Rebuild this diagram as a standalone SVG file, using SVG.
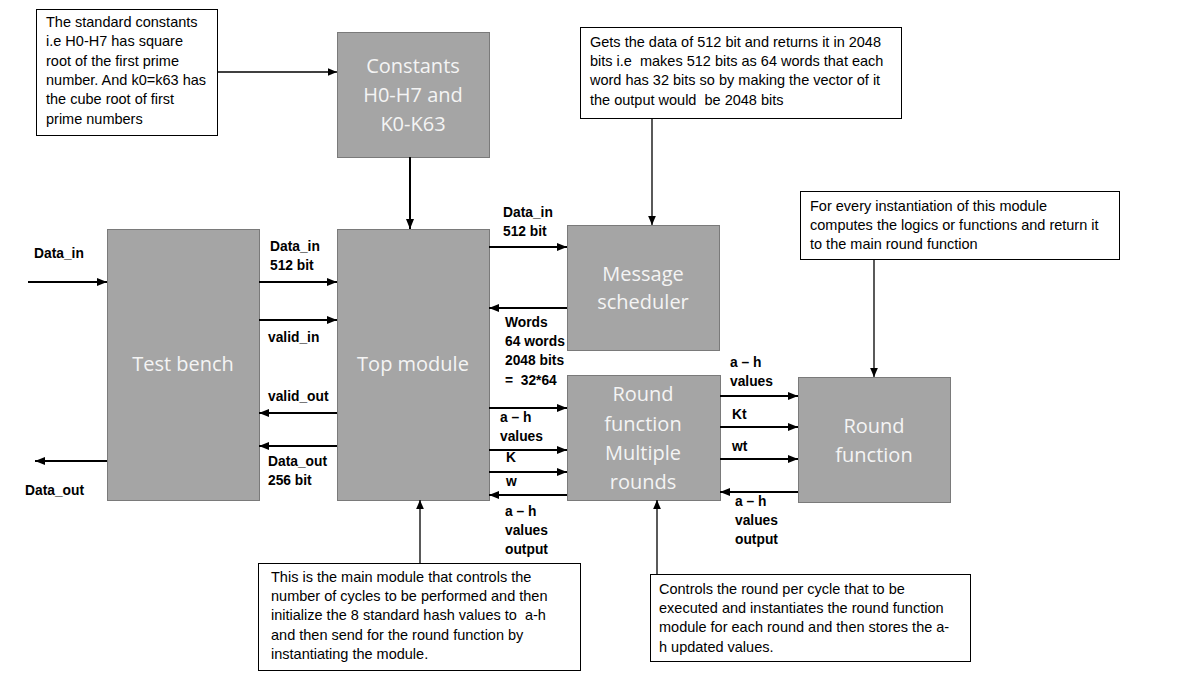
<svg xmlns="http://www.w3.org/2000/svg" width="1178" height="683" viewBox="0 0 1178 683">
<style>
.blk{fill:#a5a5a5;stroke:#7a7a7a;stroke-width:1}
.bt{font-family:"Open Sans","Liberation Sans",sans-serif;font-size:20px;fill:#f4f4f4;text-anchor:middle}
.note{fill:#fff;stroke:#000;stroke-width:1}
.nt{font-family:"Liberation Sans",Arial,sans-serif;font-size:14.5px;fill:#000;white-space:pre}
.lb{font-family:"Liberation Sans",Arial,sans-serif;font-size:13.8px;font-weight:bold;fill:#000;white-space:pre}
.w{stroke:#000;stroke-width:2;fill:none;marker-end:url(#ah)}
.t{stroke:#000;stroke-width:1.3;fill:none;marker-end:url(#ah2)}
</style>
<defs>
<marker id="ah" markerWidth="5" markerHeight="4" refX="5" refY="2" orient="auto" markerUnits="strokeWidth"><path d="M0,0 L5,2 L0,4 Z" fill="#000"/></marker>
<marker id="ah2" markerWidth="7" markerHeight="6" refX="7" refY="3" orient="auto" markerUnits="strokeWidth"><path d="M0,0 L7,3 L0,6 Z" fill="#000"/></marker>
</defs>
<rect width="1178" height="683" fill="#fff"/>

<g id="note-constants">
<rect class="note" x="36.5" y="9.5" width="181" height="126"/>
<text class="nt" x="46" y="27">The standard constants</text>
<text class="nt" x="46" y="46">i.e H0-H7 has square</text>
<text class="nt" x="46" y="66">root of the first prime</text>
<text class="nt" x="46" y="85">number. And k0=k63 has</text>
<text class="nt" x="46" y="104">the cube root of first</text>
<text class="nt" x="46" y="124">prime numbers</text>
</g>
<g id="constants">
<rect class="blk" x="337.5" y="32.5" width="152" height="125"/>
<text class="bt" x="413" y="73">Constants</text>
<text class="bt" x="413" y="102">H0-H7 and</text>
<text class="bt" x="413" y="131">K0-K63</text>
</g>
<g id="note-scheduler">
<rect class="note" x="580.5" y="27.5" width="321" height="91"/>
<text class="nt" x="590" y="47">Gets the data of 512 bit and returns it in 2048</text>
<text class="nt" x="590" y="66">bits i.e  makes 512 bits as 64 words that each</text>
<text class="nt" x="590" y="85">word has 32 bits so by making the vector of it</text>
<text class="nt" x="590" y="105">the output would  be 2048 bits</text>
</g>
<g id="test-bench">
<rect class="blk" x="107.5" y="229.5" width="152" height="271"/>
<text class="bt" x="183" y="371">Test bench</text>
</g>
<g id="top-module">
<rect class="blk" x="337.5" y="229.5" width="152" height="271"/>
<text class="bt" x="413" y="371">Top module</text>
</g>
<g id="message-scheduler">
<rect class="blk" x="567.5" y="225.5" width="152" height="125"/>
<text class="bt" x="643" y="281">Message</text>
<text class="bt" x="643" y="309">scheduler</text>
</g>
<g id="round-multi">
<rect class="blk" x="567.5" y="375.5" width="153" height="125"/>
<text class="bt" x="643" y="401">Round</text>
<text class="bt" x="643" y="431">function</text>
<text class="bt" x="643" y="460">Multiple</text>
<text class="bt" x="643" y="489">rounds</text>
</g>
<g id="round-function">
<rect class="blk" x="798.5" y="377.5" width="152" height="125"/>
<text class="bt" x="874" y="433">Round</text>
<text class="bt" x="874" y="462">function</text>
</g>
<g id="note-round-function">
<rect class="note" x="800.5" y="191.5" width="319" height="68"/>
<text class="nt" x="810" y="211">For every instantiation of this module</text>
<text class="nt" x="810" y="230">computes the logics or functions and return it</text>
<text class="nt" x="810" y="249">to the main round function</text>
</g>
<g id="note-top">
<rect class="note" x="258.5" y="563.5" width="322" height="107"/>
<text class="nt" x="271" y="582">This is the main module that controls the</text>
<text class="nt" x="271" y="601">number of cycles to be performed and then</text>
<text class="nt" x="271" y="620">initialize the 8 standard hash values to  a-h</text>
<text class="nt" x="271" y="640">and then send for the round function by</text>
<text class="nt" x="271" y="659">instantiating the module.</text>
</g>
<g id="note-round-multi">
<rect class="note" x="650.5" y="574.5" width="320" height="87"/>
<text class="nt" x="659" y="594">Controls the round per cycle that to be</text>
<text class="nt" x="659" y="613">executed and instantiates the round function</text>
<text class="nt" x="659" y="632">module for each round and then stores the a-</text>
<text class="nt" x="659" y="652">h updated values.</text>
</g>

<g id="connectors">
<path class="t" d="M217,72 H337"/>
<path class="w" d="M410,157 V229"/>
<path class="t" d="M652,118 V225"/>
<path class="t" d="M874,259 V377"/>
<path class="t" d="M420,563 V500"/>
<path class="t" d="M657,574 V500"/>
<path class="w" d="M28,282 H107"/>
<path class="w" d="M107,461 H35"/>
<path class="w" d="M259,282 H337"/>
<path class="w" d="M259,320 H337"/>
<path class="w" d="M337,413 H259"/>
<path class="w" d="M337,446 H259"/>
<path class="w" d="M489,247 H567"/>
<path class="w" d="M567,308 H489"/>
<path class="w" d="M489,408 H567"/>
<path class="w" d="M489,450 H567"/>
<path class="w" d="M489,472 H567"/>
<path class="w" d="M567,495 H489"/>
<path class="w" d="M720,396 H798"/>
<path class="w" d="M720,427 H798"/>
<path class="w" d="M720,459 H798"/>
<path class="w" d="M798,492 H720"/>
</g>

<g id="labels">
<text class="lb" x="34" y="258">Data_in</text>
<text class="lb" x="25" y="495">Data_out</text>
<text class="lb" x="270" y="251">Data_in</text>
<text class="lb" x="270" y="270">512 bit</text>
<text class="lb" x="268" y="342">valid_in</text>
<text class="lb" x="268" y="401">valid_out</text>
<text class="lb" x="268" y="466">Data_out</text>
<text class="lb" x="268" y="485">256 bit</text>
<text class="lb" x="503" y="217">Data_in</text>
<text class="lb" x="503" y="236">512 bit</text>
<text class="lb" x="505" y="327">Words</text>
<text class="lb" x="505" y="346">64 words</text>
<text class="lb" x="505" y="365">2048 bits</text>
<text class="lb" x="505" y="385">=  32*64</text>
<text class="lb" x="500" y="422">a – h</text>
<text class="lb" x="500" y="441">values</text>
<text class="lb" x="506" y="462">K</text>
<text class="lb" x="506" y="486">w</text>
<text class="lb" x="505" y="516">a – h</text>
<text class="lb" x="505" y="535">values</text>
<text class="lb" x="505" y="554">output</text>
<text class="lb" x="730" y="367">a – h</text>
<text class="lb" x="730" y="386">values</text>
<text class="lb" x="732" y="419">Kt</text>
<text class="lb" x="732" y="451">wt</text>
<text class="lb" x="735" y="506">a – h</text>
<text class="lb" x="735" y="525">values</text>
<text class="lb" x="735" y="544">output</text>
</g>
</svg>
